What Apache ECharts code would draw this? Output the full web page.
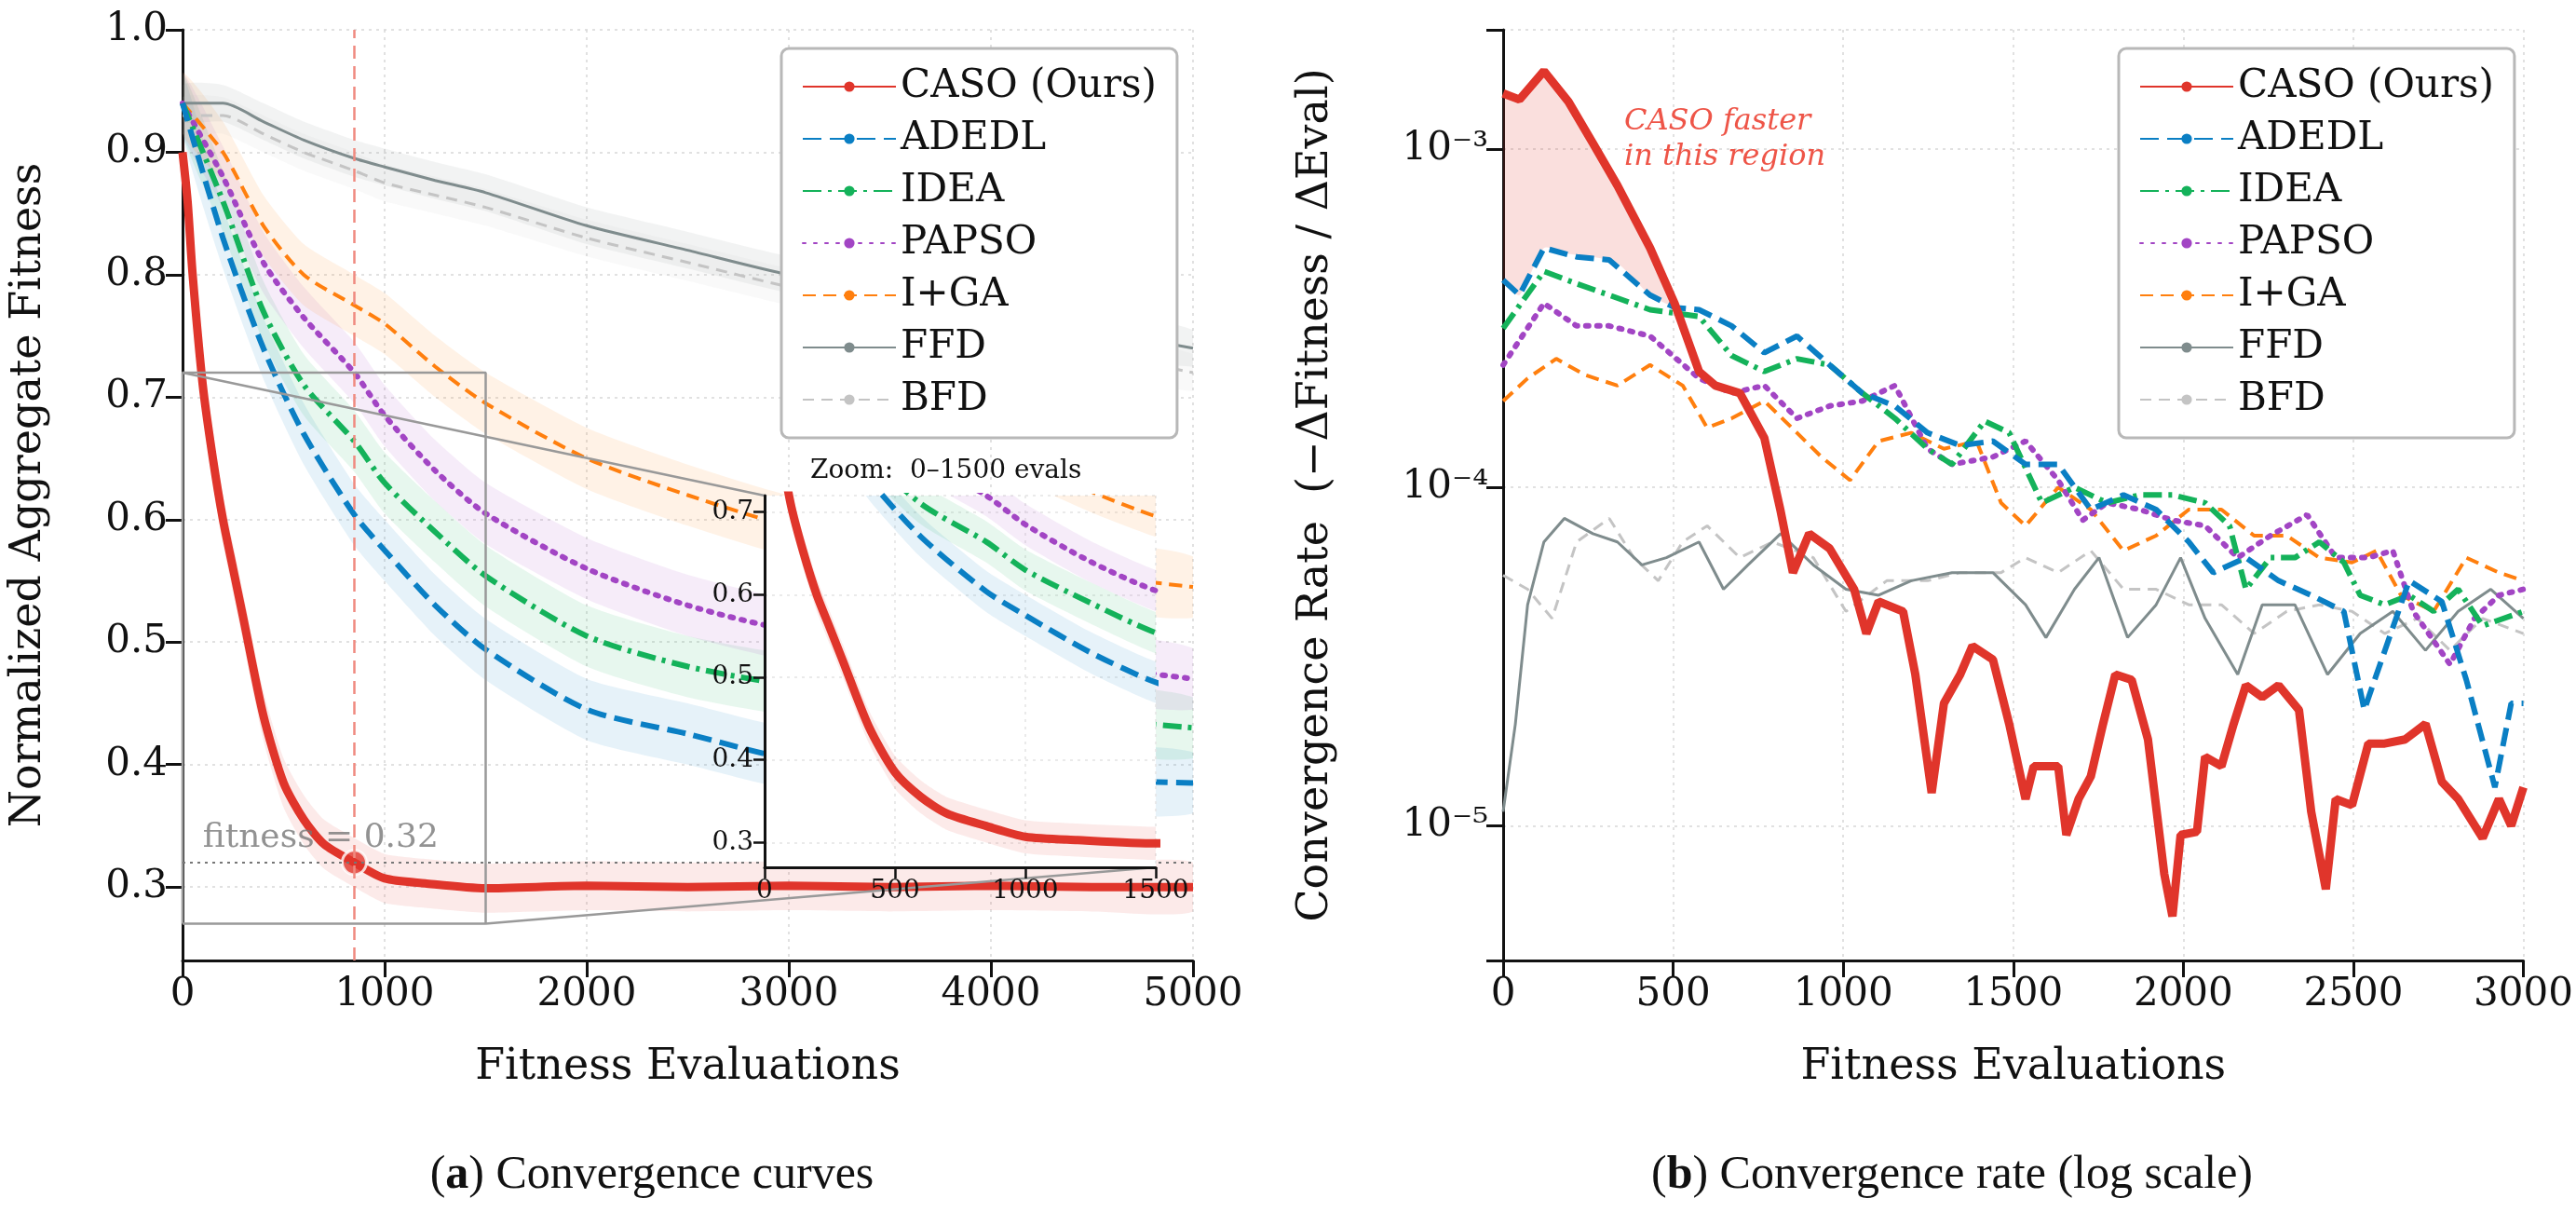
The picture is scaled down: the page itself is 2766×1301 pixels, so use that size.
<!DOCTYPE html>
<html>
<head>
<meta charset="utf-8">
<script src="https://cdn.jsdelivr.net/npm/echarts@6/dist/echarts.min.js"></script>
<style>html,body{margin:0;padding:0;background:#fff}#chart{width:2766px;height:1301px}</style>
</head>
<body>
<div id="chart"></div>
<script>
// ---- panel (a) data ----
var names = ['CASO (Ours)', 'ADEDL', 'IDEA', 'PAPSO', 'I+GA', 'FFD', 'BFD'];
var xCaso = [0, 25, 50, 100, 150, 200, 250, 300, 400, 500, 600, 700, 850, 1000, 1200, 1500, 2000, 2500, 3000, 3500, 4000, 4500, 5000];
var caso = [0.90, 0.86, 0.80, 0.71, 0.65, 0.60, 0.56, 0.52, 0.44, 0.385, 0.355, 0.335, 0.32, 0.307, 0.303, 0.299, 0.301, 0.300, 0.301, 0.300, 0.301, 0.300, 0.300];
var xBase = [0, 200, 400, 600, 850, 1000, 1250, 1500, 2000, 2500, 3000, 4000, 5000];
var adedl = [0.94, 0.83, 0.74, 0.67, 0.604, 0.575, 0.53, 0.494, 0.445, 0.425, 0.405, 0.39, 0.385];
var idea = [0.94, 0.86, 0.77, 0.71, 0.664, 0.63, 0.59, 0.554, 0.505, 0.48, 0.465, 0.445, 0.43];
var papso = [0.94, 0.88, 0.81, 0.765, 0.72, 0.685, 0.64, 0.605, 0.56, 0.53, 0.51, 0.49, 0.47];
var iga = [0.94, 0.90, 0.84, 0.80, 0.775, 0.76, 0.725, 0.695, 0.65, 0.62, 0.595, 0.565, 0.545];
var ffd = [0.94, 0.94, 0.925, 0.91, 0.895, 0.888, 0.877, 0.867, 0.84, 0.82, 0.80, 0.77, 0.74];
var bfd = [0.93, 0.93, 0.915, 0.90, 0.885, 0.875, 0.865, 0.855, 0.83, 0.81, 0.79, 0.755, 0.72];
var bandW = [0.02, 0.025, 0.025, 0.025, 0.025, 0.015, 0.015];
var markX = 850, markY = 0.32;
var zoomBox = [[0, 0.27], [1500, 0.27], [1500, 0.72], [0, 0.72], [0, 0.27]];

// ---- panel (b) data ----
var rX = {
	caso: [0, 48, 120, 192, 264, 336, 432, 504, 576, 624, 696, 768, 816, 852, 900, 960, 1032, 1068, 1104, 1176, 1212, 1260, 1296, 1344, 1380, 1440, 1488, 1536, 1560, 1632, 1656, 1692, 1728, 1764, 1800, 1848, 1896, 1944, 1968, 1992, 2040, 2064, 2112, 2148, 2184, 2232, 2280, 2340, 2376, 2419, 2448, 2496, 2544, 2592, 2652, 2712, 2760, 2808, 2880, 2928, 2964, 3000],
	adedl: [0, 48, 120, 216, 312, 432, 504, 576, 672, 768, 864, 960, 1056, 1152, 1248, 1344, 1440, 1536, 1632, 1728, 1824, 1920, 2016, 2088, 2184, 2280, 2376, 2472, 2532, 2568, 2664, 2760, 2832, 2916, 2964, 3000],
	idea: [0, 120, 216, 312, 432, 576, 672, 768, 864, 960, 1056, 1152, 1248, 1320, 1416, 1488, 1584, 1680, 1776, 1872, 1968, 2064, 2136, 2184, 2256, 2328, 2400, 2472, 2520, 2592, 2664, 2736, 2808, 2880, 3000],
	papso: [0, 120, 216, 312, 432, 576, 672, 768, 864, 960, 1056, 1152, 1248, 1320, 1440, 1536, 1632, 1704, 1776, 1872, 1968, 2064, 2160, 2256, 2364, 2448, 2544, 2616, 2676, 2784, 2856, 2928, 3000],
	iga: [0, 72, 156, 240, 336, 432, 528, 600, 672, 768, 864, 936, 1020, 1104, 1200, 1296, 1392, 1464, 1536, 1632, 1728, 1824, 1920, 2016, 2112, 2208, 2304, 2400, 2496, 2568, 2640, 2736, 2832, 2928, 3000],
	ffd: [0, 36, 72, 120, 180, 264, 336, 408, 480, 576, 648, 720, 816, 912, 1008, 1104, 1200, 1320, 1440, 1536, 1596, 1680, 1752, 1836, 1920, 1992, 2064, 2160, 2232, 2328, 2424, 2520, 2616, 2712, 2808, 2904, 3000],
	bfd: [0, 72, 144, 216, 312, 384, 456, 528, 600, 696, 792, 912, 1008, 1128, 1248, 1344, 1464, 1536, 1632, 1728, 1824, 1920, 2016, 2112, 2208, 2304, 2400, 2496, 2592, 2688, 2784, 2880, 3000]
};
var rY = {
	caso: [1.46e-3, 1.4e-3, 1.7e-3, 1.38e-3, 1.04e-3, 7.8e-4, 5.1e-4, 3.5e-4, 2.2e-4, 2.0e-4, 1.9e-4, 1.4e-4, 8.5e-5, 5.6e-5, 7.3e-5, 6.6e-5, 5.0e-5, 3.7e-5, 4.6e-5, 4.3e-5, 2.8e-5, 1.25e-5, 2.3e-5, 2.8e-5, 3.4e-5, 3.1e-5, 2.0e-5, 1.2e-5, 1.5e-5, 1.5e-5, 9.4e-6, 1.2e-5, 1.4e-5, 2.0e-5, 2.8e-5, 2.7e-5, 1.8e-5, 7.2e-6, 5.4e-6, 9.4e-6, 9.6e-6, 1.6e-5, 1.5e-5, 2.0e-5, 2.6e-5, 2.4e-5, 2.6e-5, 2.2e-5, 1.1e-5, 6.5e-6, 1.2e-5, 1.15e-5, 1.75e-5, 1.75e-5, 1.8e-5, 2.0e-5, 1.35e-5, 1.2e-5, 9.2e-6, 1.2e-5, 1.0e-5, 1.3e-5],
	adedl: [4.1e-4, 3.7e-4, 5.1e-4, 4.8e-4, 4.7e-4, 3.7e-4, 3.4e-4, 3.35e-4, 3.0e-4, 2.5e-4, 2.8e-4, 2.3e-4, 1.9e-4, 1.74e-4, 1.45e-4, 1.33e-4, 1.37e-4, 1.17e-4, 1.17e-4, 8.6e-5, 9.5e-5, 8.6e-5, 6.9e-5, 5.6e-5, 6.2e-5, 5.3e-5, 4.8e-5, 4.3e-5, 2.2e-5, 2.8e-5, 5.3e-5, 4.6e-5, 2.7e-5, 1.3e-5, 2.3e-5, 2.3e-5],
	idea: [2.95e-4, 4.35e-4, 4.0e-4, 3.7e-4, 3.35e-4, 3.2e-4, 2.45e-4, 2.2e-4, 2.4e-4, 2.3e-4, 1.9e-4, 1.6e-4, 1.3e-4, 1.17e-4, 1.57e-4, 1.45e-4, 9.0e-5, 1.0e-4, 9.0e-5, 9.5e-5, 9.5e-5, 9.0e-5, 7.7e-5, 5.0e-5, 6.2e-5, 6.2e-5, 6.9e-5, 6.0e-5, 4.8e-5, 4.5e-5, 4.8e-5, 4.3e-5, 5.0e-5, 3.9e-5, 4.3e-5],
	papso: [2.3e-4, 3.5e-4, 3.0e-4, 3.0e-4, 2.8e-4, 2.1e-4, 1.9e-4, 2.0e-4, 1.6e-4, 1.74e-4, 1.8e-4, 2.0e-4, 1.3e-4, 1.17e-4, 1.23e-4, 1.37e-4, 1.05e-4, 8.0e-5, 9.0e-5, 8.6e-5, 8.0e-5, 7.7e-5, 6.2e-5, 7.2e-5, 8.3e-5, 6.2e-5, 6.2e-5, 6.5e-5, 4.3e-5, 3.0e-5, 4.1e-5, 4.8e-5, 5.0e-5],
	iga: [1.8e-4, 2.1e-4, 2.4e-4, 2.15e-4, 2.0e-4, 2.3e-4, 2.0e-4, 1.5e-4, 1.6e-4, 1.8e-4, 1.45e-4, 1.23e-4, 1.05e-4, 1.37e-4, 1.45e-4, 1.3e-4, 1.37e-4, 9.0e-5, 7.7e-5, 1.0e-4, 8.6e-5, 6.5e-5, 7.2e-5, 8.6e-5, 8.6e-5, 7.2e-5, 7.2e-5, 6.2e-5, 6.0e-5, 6.5e-5, 4.8e-5, 4.3e-5, 6.2e-5, 5.6e-5, 5.3e-5],
	ffd: [1.1e-5, 2.0e-5, 4.5e-5, 6.9e-5, 8.1e-5, 7.3e-5, 6.9e-5, 5.9e-5, 6.2e-5, 6.9e-5, 5.0e-5, 5.9e-5, 7.3e-5, 5.9e-5, 5.0e-5, 4.8e-5, 5.3e-5, 5.6e-5, 5.6e-5, 4.5e-5, 3.6e-5, 5.0e-5, 6.2e-5, 3.6e-5, 4.5e-5, 6.2e-5, 4.1e-5, 2.8e-5, 4.5e-5, 4.5e-5, 2.8e-5, 3.7e-5, 4.3e-5, 3.3e-5, 4.3e-5, 5.0e-5, 4.1e-5],
	bfd: [5.5e-5, 5.0e-5, 4.1e-5, 6.9e-5, 8.1e-5, 6.2e-5, 5.3e-5, 6.9e-5, 7.7e-5, 6.2e-5, 6.9e-5, 6.2e-5, 4.3e-5, 5.3e-5, 5.3e-5, 5.6e-5, 5.6e-5, 6.2e-5, 5.6e-5, 6.5e-5, 5.0e-5, 5.0e-5, 4.5e-5, 4.5e-5, 3.7e-5, 4.3e-5, 4.5e-5, 4.3e-5, 3.7e-5, 4.1e-5, 3.3e-5, 4.1e-5, 3.7e-5]
};
// region where CASO is above ADEDL
var fillX = [0, 48, 120, 192, 264, 336, 432, 504, 525];
var fillTop = [1.46e-3, 1.4e-3, 1.7e-3, 1.38e-3, 1.04e-3, 7.8e-4, 5.1e-4, 3.5e-4, 3.35e-4];
var fillBot = [4.1e-4, 3.7e-4, 5.1e-4, 4.9e-4, 4.8e-4, 4.6e-4, 3.7e-4, 3.4e-4, 3.35e-4];
var minorY = [5e-6, 6e-6, 7e-6, 8e-6, 9e-6, 2e-5, 3e-5, 4e-5, 5e-5, 6e-5, 7e-5, 8e-5, 9e-5, 2e-4, 3e-4, 4e-4, 5e-4, 6e-4, 7e-4, 8e-4, 9e-4, 2e-3];

var colors = ['#e0352b', '#0a7fc4', '#14b25a', '#a245c4', '#ff7f0e', '#7f8c8d', '#c4c4c4'];
var widths = [9, 6, 6, 6, 4, 3, 3];
var dashes = ['solid', [20, 9], [20, 7, 4, 7], [3, 9], [14, 8], 'solid', [12, 8]];
var FONT = 'DejaVu Serif';

function pairs(xs, ys) {
	return xs.map(function(x, i) { return [x, ys[i]]; });
}

function lineSeries(i, data, xi, yi, z) {
	return {
		name: names[i], type: 'line', xAxisIndex: xi, yAxisIndex: yi, z: z,
		data: data, symbol: 'none', showSymbol: false, smooth: xi === 1 ? false : 0.25, clip: true,
		color: colors[i],
		lineStyle: { color: colors[i], width: widths[i], type: dashes[i], cap: i === 3 ? 'round' : 'butt' },
		itemStyle: { color: colors[i] }
	};
}

function polySeries(xs, top, bot, color, xi, yi, z) {
	return {
		type: 'custom', xAxisIndex: xi, yAxisIndex: yi, z: z, clip: true, silent: true,
		data: [[xs[0], top[0]]],
		renderItem: function(params, api) {
			var pts = [];
			for (var k = 0; k < xs.length; k++) pts.push(api.coord([xs[k], top[k]]));
			for (var k = xs.length - 1; k >= 0; k--) pts.push(api.coord([xs[k], bot[k]]));
			return { type: 'polygon', shape: { points: pts, smooth: 0.2 }, style: { fill: color } };
		}
	};
}

function bandSeries(i, xs, ys, xi, yi, z) {
	var top = ys.map(function(v) { return v + bandW[i]; });
	var bot = ys.map(function(v) { return v - bandW[i]; });
	return polySeries(xs, top, bot, echarts.color.modifyAlpha(colors[i], 0.1), xi, yi, z);
}

var leftData = [[xCaso, caso], [xBase, adedl], [xBase, idea], [xBase, papso], [xBase, iga], [xBase, ffd], [xBase, bfd]];
var rightKeys = ['caso', 'adedl', 'idea', 'papso', 'iga', 'ffd', 'bfd'];

var series = [];
// main (a)
leftData.forEach(function(d, i) { series.push(bandSeries(i, d[0], d[1], 0, 0, 1)); });
for (var i = leftData.length - 1; i >= 0; i--) series.push(lineSeries(i, pairs(leftData[i][0], leftData[i][1]), 0, 0, 2));
series[series.length - 1].markLine = {
	silent: true, symbol: 'none', label: { show: false },
	data: [
		{ yAxis: markY, lineStyle: { color: '#777', type: [3, 5], width: 2 } },
		{ xAxis: markX, lineStyle: { color: '#f08a80', type: [14, 8], width: 2.5 } }
	]
};
series.push({
	type: 'line', xAxisIndex: 0, yAxisIndex: 0, z: 3, data: zoomBox, symbol: 'none',
	lineStyle: { color: '#999', width: 2.5 }, silent: true
});
series.push({
	type: 'scatter', xAxisIndex: 0, yAxisIndex: 0, z: 4, data: [[markX, markY]], symbolSize: 26,
	itemStyle: { color: colors[0], borderColor: '#fff', borderWidth: 3 }, silent: true
});
series.push({
	type: 'scatter', xAxisIndex: 0, yAxisIndex: 0, z: 4, data: [[100, markY]], symbolSize: 1,
	itemStyle: { color: 'transparent' }, silent: true,
	label: { show: true, position: 'top', align: 'left', distance: 8, formatter: 'fitness = 0.32', color: '#777', fontFamily: FONT, fontSize: 36 }
});
// inset
leftData.forEach(function(d, i) { series.push(bandSeries(i, d[0], d[1], 2, 2, 11)); });
for (var i = leftData.length - 1; i >= 0; i--) series.push(lineSeries(i, pairs(leftData[i][0], leftData[i][1]), 2, 2, 12));
// (b)
series.push(polySeries(fillX, fillTop, fillBot, 'rgba(224,53,43,0.16)', 1, 1, 1));
series.push({
	type: 'line', xAxisIndex: 1, yAxisIndex: 1, data: [], silent: true,
	markLine: {
		silent: true, symbol: 'none', label: { show: false },
		lineStyle: { color: '#e4e4e4', type: [2, 4], width: 1.5 },
		data: minorY.map(function(v) { return { yAxis: v }; })
	}
});
for (var i = rightKeys.length - 1; i >= 0; i--) series.push(lineSeries(i, pairs(rX[rightKeys[i]], rY[rightKeys[i]]), 1, 1, 2));

var axisLine = { show: true, lineStyle: { color: '#111', width: 3 } };
var axisTick = { show: true, length: 18, lineStyle: { color: '#111', width: 3 } };
var grid = { show: true, lineStyle: { color: '#d8d8d8', type: [3, 5], width: 1.5 } };
var plain = function(v) { return String(v); };
var lab = { color: '#111', fontFamily: FONT, fontSize: 42, margin: 16, formatter: plain };
var nameStyle = { color: '#111', fontFamily: FONT, fontSize: 46 };

function sup(n) {
	var m = { '-': '\u207B', '0': '\u2070', '1': '\u00B9', '2': '\u00B2', '3': '\u00B3', '4': '\u2074', '5': '\u2075', '6': '\u2076', '7': '\u2077', '8': '\u2078', '9': '\u2079' };
	return String(n).split('').map(function(c) { return m[c]; }).join('');
}

function legend(left) {
	return {
		data: names, left: left, top: 52, orient: 'vertical', itemWidth: 100, itemHeight: 14, itemGap: 14,
		padding: [20, 22, 20, 22], borderColor: '#b8b8b8', borderWidth: 3, borderRadius: 8, backgroundColor: '#fff',
		textStyle: { fontFamily: FONT, fontSize: 42, color: '#111' }, z: 20
	};
}

var capRich = { b: { fontWeight: 'bold', fontSize: 50, fontFamily: 'Liberation Serif' }, n: { fontSize: 50, fontFamily: 'Liberation Serif' } };

var option = {
	animation: false,
	backgroundColor: '#fff',
	grid: [
		{ left: 196, right: 1485, top: 32, bottom: 270, containLabel: false },
		{ left: 1614, right: 36, top: 32, bottom: 270, containLabel: false },
		{ left: 821, top: 532, width: 420, height: 399, show: true, backgroundColor: '#fff', borderWidth: 0, z: 8 }
	],
	legend: [legend(839), legend(2275)],
	xAxis: [
		{ type: 'value', gridIndex: 0, min: 0, max: 5000, interval: 1000, axisLine: axisLine, axisTick: axisTick, splitLine: grid, axisLabel: lab,
			name: 'Fitness Evaluations', nameLocation: 'middle', nameGap: 92, nameTextStyle: nameStyle },
		{ type: 'value', gridIndex: 1, min: 0, max: 3000, interval: 500, axisLine: axisLine, axisTick: axisTick, splitLine: grid, axisLabel: lab,
			name: 'Fitness Evaluations', nameLocation: 'middle', nameGap: 92, nameTextStyle: nameStyle },
		{ type: 'value', gridIndex: 2, min: 0, max: 1500, interval: 500, z: 9,
			axisLine: { show: true, lineStyle: { color: '#111', width: 3 } }, axisTick: { show: true, length: 12, lineStyle: { color: '#111', width: 2.5 } },
			splitLine: { show: true, lineStyle: { color: '#e4e4e4', type: [3, 5], width: 1.5 } }, axisLabel: { color: '#111', fontFamily: FONT, fontSize: 28, margin: 12, formatter: plain } }
	],
	yAxis: [
		{ type: 'value', gridIndex: 0, min: 0.24, max: 1.0, splitNumber: 8, axisLine: axisLine, axisTick: axisTick, splitLine: grid,
			axisLabel: Object.assign({}, lab, { showMinLabel: false, formatter: function(v) { return v.toFixed(1); } }),
			name: 'Normalized Aggregate Fitness', nameLocation: 'middle', nameGap: 142, nameTextStyle: nameStyle },
		{ type: 'log', gridIndex: 1, min: 4e-6, max: 2.25e-3, axisLine: axisLine, axisTick: axisTick, splitLine: grid,
			axisLabel: Object.assign({}, lab, { formatter: function(v) {
				var e = Math.log10(v);
				return Math.abs(e - Math.round(e)) < 1e-6 ? '10' + sup(Math.round(e)) : '';
			} }),
			name: 'Convergence Rate  (\u2212\u0394Fitness / \u0394Eval)', nameLocation: 'middle', nameGap: 178, nameTextStyle: nameStyle },
		{ type: 'value', gridIndex: 2, min: 0.27, max: 0.72, splitNumber: 5, z: 9,
			axisLine: { show: true, lineStyle: { color: '#111', width: 3 } }, axisTick: { show: true, length: 12, lineStyle: { color: '#111', width: 2.5 } },
			splitLine: { show: true, lineStyle: { color: '#e4e4e4', type: [3, 5], width: 1.5 } },
			axisLabel: { color: '#111', fontFamily: FONT, fontSize: 28, margin: 12, showMinLabel: false, showMaxLabel: false, formatter: function(v) { return v.toFixed(1); } } }
	],
	series: series
};

var myChart = echarts.init(document.getElementById('chart'));
myChart.setOption(option);

// connector lines from zoom rectangle to inset, plus texts
var p1 = myChart.convertToPixel({ gridIndex: 0 }, [0, 0.72]);
var q1 = myChart.convertToPixel({ gridIndex: 2 }, [0, 0.72]);
var p2 = myChart.convertToPixel({ gridIndex: 0 }, [1500, 0.27]);
var q2 = myChart.convertToPixel({ gridIndex: 2 }, [1500, 0.27]);
myChart.setOption({
	graphic: [
		{ id: 'con1', type: 'line', z: 3, shape: { x1: p1[0], y1: p1[1], x2: q1[0], y2: q1[1] }, style: { stroke: '#999', lineWidth: 2.5 } },
		{ id: 'con2', type: 'line', z: 3, shape: { x1: p2[0], y1: p2[1], x2: q2[0], y2: q2[1] }, style: { stroke: '#999', lineWidth: 2.5 } },
		{ id: 'zt', type: 'text', x: 870, y: 492, z: 20, style: { text: 'Zoom:  0\u20131500 evals', fontFamily: FONT, fontSize: 28, fill: '#111' } },
		{ id: 'ct', type: 'text', x: 1744, y: 112, z: 20, style: { text: 'CASO faster\nin this region', fontFamily: FONT, fontStyle: 'italic', fontWeight: 'normal', fontSize: 32, lineHeight: 38, fill: '#ee5548' } },
		{ id: 'capA', type: 'text', x: 700, y: 1262, z: 20, style: { rich: capRich, text: '{n|(}{b|a}{n|) Convergence curves}', fill: '#111', align: 'center', verticalAlign: 'middle' } },
		{ id: 'capB', type: 'text', x: 2096, y: 1262, z: 20, style: { rich: capRich, text: '{n|(}{b|b}{n|) Convergence rate (log scale)}', fill: '#111', align: 'center', verticalAlign: 'middle' } }
	]
});
</script>
</body>
</html>
